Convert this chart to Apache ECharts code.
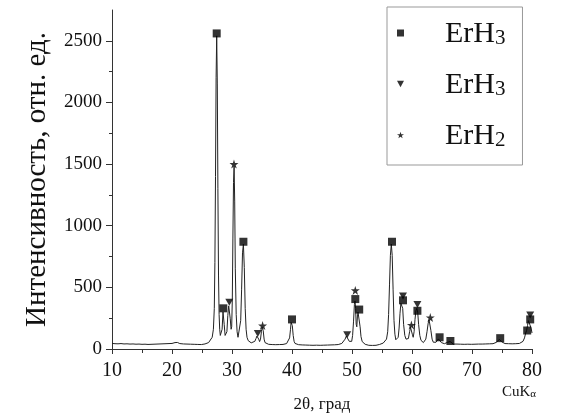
<!DOCTYPE html>
<html>
<head>
<meta charset="utf-8">
<script src="https://cdn.jsdelivr.net/npm/echarts@6/dist/echarts.min.js"></script>
<style>
  html, body { margin: 0; padding: 0; background: #fff; }
  #xrd { width: 562px; height: 414px; }
</style>
</head>
<body>
<div id="xrd"></div>
<script>
// дифрактограмма ErHx, CuKa

// 2theta, intensity
var pattern = [
  [10.0,45],[10.25,40],[10.5,43],[10.75,37],[11.0,42],[11.25,39],[11.5,44],[11.75,36],[12.0,41],[12.25,38],
  [12.5,42],[12.75,35],[13.0,40],[13.25,37],[13.5,41],[13.75,34],[14.0,39],[14.25,36],[14.5,40],[14.75,35],
  [15.0,38],[15.25,34],[15.5,39],[15.75,35],[16.0,37],[16.25,33],[16.5,38],[16.75,35],[17.0,39],[17.25,36],
  [17.5,40],[17.75,37],[18.0,41],[18.25,38],[18.5,42],[18.75,39],[19.0,43],[19.25,40],[19.5,44],[19.75,41],
  [20.0,45],[20.25,47],[20.5,52],[20.7,60],[20.9,53],[21.1,47],[21.3,44],[21.6,46],[21.9,41],[22.2,44],
  [22.5,40],[22.8,43],[23.1,39],[23.4,42],[23.7,38],[24.0,41],[24.3,37],[24.6,40],[24.9,36],[25.2,39],
  [25.5,41],[25.8,45],[26.1,52],[26.4,65],[26.7,95],[26.9,160],[27.05,330],[27.15,700],[27.25,1400],[27.35,2200],
  [27.45,2540],[27.55,2150],[27.65,1300],[27.75,600],[27.85,280],[27.95,160],[28.05,110],[28.2,95],[28.35,160],[28.5,300],
  [28.6,310],[28.7,200],[28.85,110],[29.0,95],[29.15,140],[29.3,270],[29.45,350],[29.55,360],[29.7,250],[29.85,160],
  [29.95,180],[30.05,400],[30.15,900],[30.25,1350],[30.35,1480],[30.45,1200],[30.55,650],[30.7,280],[30.85,140],[31.0,95],
  [31.15,80],[31.3,110],[31.45,230],[31.6,480],[31.75,780],[31.9,850],[32.05,660],[32.2,330],[32.35,160],[32.5,95],
  [32.7,68],[32.9,55],[33.2,50],[33.5,52],[33.8,62],[34.0,85],[34.15,105],[34.3,112],[34.45,80],[34.6,60],
  [34.75,80],[34.9,140],[35.05,175],[35.2,150],[35.35,80],[35.5,52],[35.8,42],[36.1,38],[36.4,41],[36.7,36],
  [37.0,40],[37.3,35],[37.6,39],[37.9,36],[38.2,40],[38.5,37],[38.8,41],[39.1,44],[39.4,55],[39.6,90],
  [39.75,160],[39.85,215],[39.95,225],[40.05,190],[40.2,110],[40.35,62],[40.5,45],[40.8,38],[41.1,35],[41.4,39],
  [41.7,33],[42.0,37],[42.3,32],[42.6,36],[42.9,31],[43.2,35],[43.5,30],[43.8,34],[44.1,31],[44.4,35],
  [44.7,30],[45.0,34],[45.3,31],[45.6,35],[45.9,32],[46.2,36],[46.5,33],[46.8,37],[47.1,34],[47.4,38],
  [47.7,36],[48.0,41],[48.3,45],[48.6,58],[48.85,80],[49.05,105],[49.2,108],[49.35,90],[49.55,62],[49.75,50],
  [49.95,62],[50.1,110],[50.25,220],[50.4,360],[50.5,390],[50.6,330],[50.7,200],[50.8,180],[50.9,260],[51.0,300],
  [51.1,305],[51.2,290],[51.35,180],[51.5,100],[51.7,60],[51.9,45],[52.2,38],[52.5,34],[52.8,30],[53.1,34],
  [53.4,29],[53.7,33],[54.0,30],[54.3,35],[54.6,37],[54.9,42],[55.2,48],[55.5,58],[55.75,80],[55.95,140],
  [56.1,280],[56.25,520],[56.4,760],[56.55,850],[56.7,760],[56.85,480],[57.0,230],[57.15,120],[57.3,75],[57.5,65],
  [57.7,95],[57.85,170],[58.0,290],[58.15,370],[58.3,385],[58.45,330],[58.6,200],[58.8,110],[59.0,80],[59.2,70],
  [59.4,85],[59.6,140],[59.75,175],[59.9,180],[60.05,120],[60.2,95],[60.35,140],[60.5,240],[60.65,310],[60.8,330],
  [60.95,300],[61.1,200],[61.3,110],[61.5,70],[61.7,55],[61.9,52],[62.1,58],[62.3,80],[62.5,140],[62.7,210],
  [62.85,235],[63.0,220],[63.15,150],[63.35,80],[63.55,55],[63.8,50],[64.0,55],[64.2,68],[64.4,82],[64.55,85],
  [64.7,70],[64.9,52],[65.1,45],[65.4,43],[65.7,46],[65.95,55],[66.15,62],[66.35,60],[66.6,48],[66.9,40],
  [67.2,36],[67.5,40],[67.8,35],[68.1,39],[68.4,34],[68.7,38],[69.0,35],[69.3,39],[69.6,34],[69.9,38],
  [70.2,35],[70.5,39],[70.8,36],[71.1,40],[71.4,36],[71.7,40],[72.0,37],[72.3,41],[72.6,38],[72.9,42],
  [73.2,39],[73.5,43],[73.8,47],[74.1,55],[74.35,70],[74.55,78],[74.75,72],[74.95,58],[75.2,48],[75.5,44],
  [75.8,40],[76.1,43],[76.4,39],[76.7,42],[77.0,38],[77.3,43],[77.6,40],[77.9,45],[78.2,50],[78.5,62],
  [78.75,90],[78.95,130],[79.1,150],[79.25,190],[79.4,230],[79.55,245],[79.7,220],[79.85,170],[80.0,130]
];

// отметки фаз
var squarePeaks = [[27.45,2560],[28.55,330],[31.9,870],[40.0,240],[50.55,405],[51.2,320],[56.67,870],
                   [58.5,395],[60.9,310],[64.6,95],[66.4,65],[74.7,88],[79.2,150],[79.7,240]];
var trianglePeaks = [[29.55,380],[34.3,125],[49.2,115],[58.5,430],[60.9,360],[79.7,275]];
var starPeaks = [[30.33,1500],[35.1,190],[50.55,475],[59.9,195],[63.05,255]];

var yTicks = [0, 500, 1000, 1500, 2000, 2500];
var legendNames = ['ErH3 a', 'ErH3 b', 'ErH2'];
var legendLabels = {'ErH3 a': ['ErH', '3'], 'ErH3 b': ['ErH', '3'], 'ErH2': ['ErH', '2']};

var serif = 'Liberation Serif';
var triPath = 'path://M0,0 L10,0 L5,9 Z';
var starPath = 'path://M5,0 L6.18,3.62 L10,3.62 L6.91,5.86 L8.09,9.5 L5,7.26 L1.91,9.5 L3.09,5.86 L0,3.62 L3.82,3.62 Z';

var chart = echarts.init(document.getElementById('xrd'));
chart.setOption({
    animation: false,
    backgroundColor: '#fff',
    grid: { left: 112, right: 30, top: 10, bottom: 65, outerBoundsMode: 'none', containLabel: false },
    legend: {
        data: legendNames,
        orient: 'vertical',
        left: 387,
        top: 7,
        padding: [12, 17, 14, 10],
        itemGap: 21,
        itemWidth: 7,
        itemHeight: 7,
        borderColor: '#999',
        borderWidth: 1,
        formatter: function (name) {
            var p = legendLabels[name];
            return '{a|' + p[0] + '}{s|' + p[1] + '}';
        },
        textStyle: {
            padding: [0, 0, 0, 36],
            rich: {
                a: { fontFamily: serif, fontSize: 30, lineHeight: 32, color: '#111', verticalAlign: 'bottom' },
                s: { fontFamily: serif, fontSize: 21, lineHeight: 16, color: '#111', verticalAlign: 'bottom' }
            }
        }
    },
    xAxis: {
        type: 'value',
        min: 10,
        max: 80,
        interval: 10,
        name: '2θ, град',
        nameLocation: 'middle',
        nameGap: 47,
        nameTextStyle: { fontFamily: serif, fontSize: 17, color: '#111' },
        axisLine: { lineStyle: { color: '#333', width: 1 } },
        axisTick: { length: 5, lineStyle: { color: '#333' } },
        minorTick: { show: true, splitNumber: 2, length: 4, lineStyle: { color: '#333' } },
        splitLine: { show: false },
        axisLabel: { fontFamily: serif, fontSize: 20, color: '#111', margin: 12 }
    },
    yAxis: {
        type: 'value',
        min: 0,
        max: 2750,
        interval: 500,
        name: 'Интенсивность, отн. ед.',
        nameLocation: 'middle',
        nameGap: 60,
        nameTextStyle: { fontFamily: serif, fontSize: 29, color: '#111' },
        axisLine: { show: true, lineStyle: { color: '#333', width: 1 } },
        axisTick: { show: true, length: 6, customValues: yTicks, lineStyle: { color: '#333' } },
        minorTick: { show: true, splitNumber: 2, length: 3, lineStyle: { color: '#333' } },
        splitLine: { show: false },
        axisLabel: {
            fontFamily: serif, fontSize: 19, color: '#111', margin: 10, customValues: yTicks,
            formatter: function (v) { return String(v); }
        }
    },
    graphic: [{
        type: 'text',
        left: 502,
        top: 385,
        style: {
            text: '{a|CuK}{s|α}',
            rich: {
                a: { fontFamily: serif, fontSize: 15, fill: '#111', verticalAlign: 'bottom', lineHeight: 17 },
                s: { fontFamily: serif, fontSize: 11, fill: '#111', verticalAlign: 'bottom', lineHeight: 10 }
            }
        }
    }],
    series: [
        {
            name: 'pattern',
            type: 'line',
            data: pattern,
            showSymbol: false,
            lineStyle: { color: '#222', width: 1 },
            z: 2
        },
        {
            name: legendNames[0],
            type: 'scatter',
            symbol: 'rect',
            symbolSize: 8,
            itemStyle: { color: '#000' },
            data: squarePeaks,
            z: 3
        },
        {
            name: legendNames[1],
            type: 'scatter',
            symbol: triPath,
            symbolSize: [8, 7],
            itemStyle: { color: '#000' },
            data: trianglePeaks,
            z: 3
        },
        {
            name: legendNames[2],
            type: 'scatter',
            symbol: starPath,
            symbolSize: 9,
            itemStyle: { color: '#000' },
            data: starPeaks,
            z: 3
        }
    ]
});
</script>
</body>
</html>
